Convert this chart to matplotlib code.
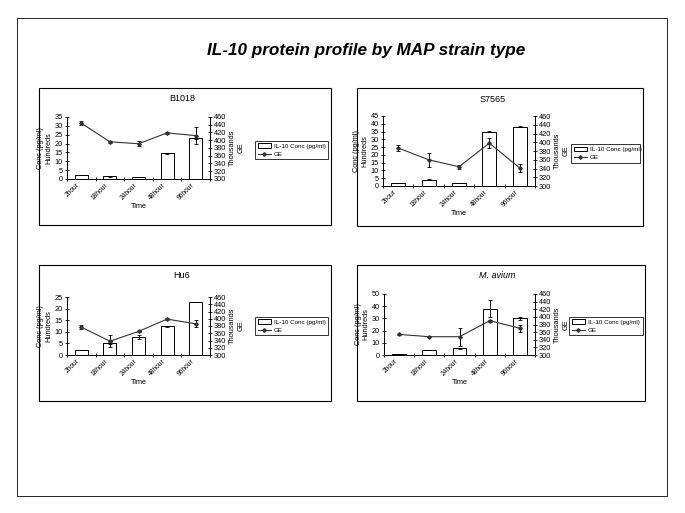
import numpy as np
import matplotlib
matplotlib.use("Agg")
import matplotlib.pyplot as plt
from matplotlib.patches import Rectangle, Patch
from matplotlib.lines import Line2D

plt.rcParams['font.family'] = ['Liberation Sans', 'DejaVu Sans']

W, H = 685, 513

# data
times = ['2hour', '18hour', '24hour', '48hour', '96hour']

b1018_conc = [2.5, 1.6, 1.0, 14.5, 23.0]
b1018_conc_err = [0.0, 0.3, 0.0, 0.3, 0.3]
b1018_ge = [444, 396, 391, 419, 412]
b1018_ge_err = [5, 3, 6, 2, 22]

s7565_conc = [2.0, 4.0, 2.0, 35.0, 38.0]
s7565_conc_err = [0.0, 0.3, 0.0, 0.4, 0.3]
s7565_ge = [387, 360, 344, 398, 341]
s7565_ge_err = [7, 16, 5, 11, 9]

hu6_conc = [2.0, 5.0, 7.8, 12.3, 23.0]
hu6_conc_err = [0.0, 0.4, 0.8, 0.3, 0.0]
hu6_ge = [377, 338, 365, 399, 386]
hu6_ge_err = [6, 16, 2, 2, 10]

mav_conc = [0.5, 4.5, 5.5, 38.0, 30.0]
mav_conc_err = [0.0, 0.0, 0.5, 7.0, 1.5]
mav_ge = [354, 348, 348, 390, 370]
mav_ge_err = [2, 2, 24, 3, 10]

fig = plt.figure(figsize=(W / 100, H / 100), dpi=100)


def frac(x0, y0, x1, y1):
    return [x0 / W, 1 - y1 / H, (x1 - x0) / W, (y1 - y0) / H]


def frame(x0, y0, x1, y1, lw=0.8):
    l, b, w, h = frac(x0, y0, x1, y1)
    fig.add_artist(Rectangle((l, b), w, h, transform=fig.transFigure,
                             fill=False, lw=lw, ec='black'))


# outer border
frame(17, 18, 667, 496, lw=0.6)

fig.text(366 / W, 1 - 51 / H, 'IL-10 protein profile by MAP strain type',
         ha='center', va='center', fontsize=12.3, fontweight='bold', style='italic')


def panel(box, ax_box, leg_box, title, title_xy, conc, conc_err, ge, ge_err,
          ymax, ystep, italic=False):
    frame(*box)
    ax = fig.add_axes(frac(*ax_box))
    x = np.arange(len(times))
    ax.bar(x, conc, width=0.46, color='white', edgecolor='black', lw=0.7,
           yerr=conc_err, error_kw=dict(lw=0.6, capsize=1.3, capthick=0.6))
    ax.set_xlim(-0.5, len(times) - 0.5)
    ax.set_ylim(0, ymax)
    ax.set_yticks(np.arange(0, ymax + 0.1, ystep))
    ax.set_xticks(x)
    ax.set_xticklabels(times, rotation=45, ha='right', fontsize=4.8)
    ax.set_xticks(np.arange(-0.5, len(times), 1), minor=True)
    ax.tick_params(axis='x', which='major', length=0, pad=2)
    ax.tick_params(axis='x', which='minor', length=2.5, width=0.6, direction='inout')
    ax.tick_params(axis='y', labelsize=5.3, length=3, width=0.6,
                   direction='inout', pad=1.5)
    for s in ['top', 'right']:
        ax.spines[s].set_visible(False)
    for s in ['left', 'bottom']:
        ax.spines[s].set_linewidth(0.7)
    ax.set_ylabel('Conc (pg/ml)\nHundreds', fontsize=5.3, labelpad=1.5, linespacing=1.2)
    ax.set_xlabel('Time', fontsize=5.3, labelpad=1)

    ax2 = ax.twinx()
    ax2.errorbar(x, ge, yerr=ge_err, color='#333333', lw=0.8, marker='D', ms=1.8,
                 elinewidth=0.7, ecolor='black', capsize=1.4, capthick=0.6)
    ax2.set_ylim(300, 460)
    ax2.set_yticks(np.arange(300, 461, 20))
    ax2.tick_params(axis='y', labelsize=5.3, length=3, width=0.6,
                    direction='inout', pad=1.5)
    for s in ['top', 'left', 'bottom']:
        ax2.spines[s].set_visible(False)
    ax2.spines['right'].set_linewidth(0.7)
    ax2.set_ylabel('Thousands\nGE', fontsize=5.3, labelpad=2, linespacing=1.2)

    fig.text(title_xy[0] / W, 1 - title_xy[1] / H, title, ha='center',
             va='center', fontsize=6.5, style='italic' if italic else 'normal')

    handles = [Patch(facecolor='white', edgecolor='black', lw=0.7),
               Line2D([], [], color='#333333', lw=0.8, marker='D', ms=1.8)]
    l, b, w, h = frac(*leg_box)
    leg = fig.legend(handles, ['IL-10 Conc (pg/ml)', 'GE'], loc='center',
                     bbox_to_anchor=(l, b, w, h), mode='expand', fontsize=4.5,
                     frameon=True, fancybox=False, edgecolor='black',
                     borderpad=0.4, handlelength=2.2, handleheight=0.8,
                     handletextpad=0.4, labelspacing=0.4, borderaxespad=0)
    leg.get_frame().set_linewidth(0.7)


panel((39, 88, 331, 225), (67, 117, 210, 179), (255, 140, 328, 160),
      'B1018', (182, 99), b1018_conc, b1018_conc_err, b1018_ge, b1018_ge_err, 35, 5)
panel((357, 88, 643, 226), (383, 116, 535, 186), (571, 145, 640, 162),
      'S7565', (493, 100), s7565_conc, s7565_conc_err, s7565_ge, s7565_ge_err, 45, 5)
panel((39, 265, 331, 401), (67, 297, 210, 355), (255, 315, 328, 337),
      'Hu6', (182, 275), hu6_conc, hu6_conc_err, hu6_ge, hu6_ge_err, 25, 5)
panel((357, 265, 645, 401), (384, 294, 535, 355), (569, 315, 643, 337),
      'M. avium', (497, 275), mav_conc, mav_conc_err, mav_ge, mav_ge_err, 50, 10,
      italic=True)

fig.savefig('out.png', dpi=100)
